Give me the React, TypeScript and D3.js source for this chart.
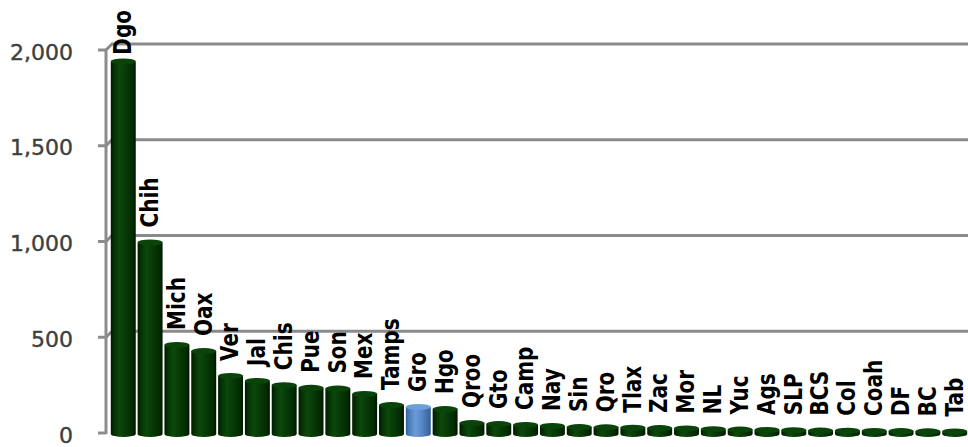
import { useEffect, useRef } from 'react';
import * as d3 from 'd3';

// States, ordered as in the chart
const states = [
  'Dgo', 'Chih', 'Mich', 'Oax', 'Ver', 'Jal', 'Chis', 'Pue', 'Son', 'Mex', 'Tamps',
  'Gro', 'Hgo', 'Qroo', 'Gto', 'Camp', 'Nay', 'Sin', 'Qro', 'Tlax', 'Zac', 'Mor',
  'NL', 'Yuc', 'Ags', 'SLP', 'BCS', 'Col', 'Coah', 'DF', 'BC', 'Tab',
];

// Values
const values = [
  1940, 995, 460, 428, 298, 272, 250, 236, 232, 204, 146,
  136, 125, 52, 47, 42, 37, 31, 30, 28, 26, 24,
  20, 18, 16, 15, 13, 12, 11, 10, 9, 8,
];

const highlighted = ['Gro'];

const yTicks = [0, 500, 1000, 1500, 2000];

export default function App(): JSX.Element {
  const svgRef = useRef<SVGSVGElement>(null);

  useEffect(() => {
    document.body.style.margin = '0';
    if (!svgRef.current) return;
    svgRef.current.innerHTML = '';

    const width = 968;
    const height = 447;
    const axisX = 106;
    const wallShift = 6;

    const x = d3.scaleBand<string>().domain(states).range([110, 968]).paddingInner(0.07).paddingOuter(0.03);
    const y = d3.scaleLinear([0, 2000], [433, 50]);

    const svg = d3
      .select(svgRef.current)
      .attr('width', width)
      .attr('height', height)
      .attr('viewBox', [0, 0, width, height]);

    const defs = svg.append('defs');
    const grad = (id: string, stops: [number, string][]) => {
      const g = defs.append('linearGradient').attr('id', id).attr('x1', '0%').attr('x2', '100%');
      stops.forEach(([o, c]) => g.append('stop').attr('offset', `${o}%`).attr('stop-color', c));
    };
    grad('green', [
      [0, '#001800'],
      [12, '#033003'],
      [35, '#0c480c'],
      [60, '#063a06'],
      [88, '#022a02'],
      [100, '#001400'],
    ]);
    grad('blue', [
      [0, '#34609a'],
      [15, '#4d7fc0'],
      [38, '#6b9bd6'],
      [65, '#5686c6'],
      [100, '#335e98'],
    ]);

    // gridlines on the back wall
    svg
      .append('g')
      .selectAll('path')
      .data(yTicks.filter((d) => d > 0))
      .join('path')
      .attr('fill', 'none')
      .attr('stroke', '#8a8a8a')
      .attr('stroke-width', 3)
      .attr('d', (d) => `M${axisX},${y(d)} L${axisX + 6},${y(d) - wallShift} L${width},${y(d) - wallShift}`);

    // y axis
    const axis = svg.append('g');
    axis
      .append('line')
      .attr('x1', axisX)
      .attr('x2', axisX)
      .attr('y1', y(2000) - 1)
      .attr('y2', y(0) + 1)
      .attr('stroke', '#8c8c8c')
      .attr('stroke-width', 3);
    axis
      .selectAll('line.tick')
      .data(yTicks)
      .join('line')
      .attr('class', 'tick')
      .attr('x1', axisX - 8)
      .attr('x2', axisX)
      .attr('y1', (d) => y(d))
      .attr('y2', (d) => y(d))
      .attr('stroke', '#8c8c8c')
      .attr('stroke-width', 3);
    axis
      .selectAll('text')
      .data(yTicks)
      .join('text')
      .attr('x', 73)
      .attr('y', (d) => y(d) + 2)
      .attr('dy', '0.35em')
      .attr('text-anchor', 'end')
      .attr('font-family', 'DejaVu Sans')
      .attr('font-size', 22)
      .attr('fill', '#404040')
      .attr('stroke', '#404040')
      .attr('stroke-width', 0.4)
      .text((d) => d3.format(',')(d));

    // cylinders
    const data = states.map((s, i) => ({ s, v: values[i] }));
    const bw = x.bandwidth();
    const ry = 3;
    const g = svg
      .append('g')
      .selectAll('g')
      .data(data)
      .join('g');
    g.append('path')
      .attr('fill', (d) => (highlighted.includes(d.s) ? 'url(#blue)' : 'url(#green)'))
      .attr('d', (d) => {
        const x0 = x(d.s)!;
        const yt = y(d.v);
        const yb = y(0) + 1;
        return `M${x0},${yt} L${x0},${yb} A${bw / 2},${ry} 0 0 0 ${x0 + bw},${yb} L${x0 + bw},${yt} Z`;
      });
    g.append('ellipse')
      .attr('cx', (d) => x(d.s)! + bw / 2)
      .attr('cy', (d) => y(d.v))
      .attr('rx', bw / 2)
      .attr('ry', ry)
      .attr('fill', (d) => (highlighted.includes(d.s) ? '#6f9fd8' : '#0b440b'));

    // labels above bars
    const labels = svg
      .append('g')
      .selectAll('text')
      .data(data)
      .join('text')
      .attr('font-family', 'DejaVu Sans')
      .attr('font-weight', 'bold')
      .attr('font-size', 20)
      .attr('fill', '#000')
      .attr('dy', '0.36em')
      .text((d) => d.s);
    labels.each(function (d) {
      const el = this as SVGTextElement;
      const len = el.getComputedTextLength();
      const yb = Math.max(y(d.v) - 15, len + 10);
      const cx = x(d.s)! + bw / 2 - 1;
      d3.select(el).attr('transform', `translate(${cx},${yb}) rotate(-90) scale(1,1.22)`);
    });
  }, []);

  return (
    <div>
      <svg ref={svgRef} style={{ display: 'block' }} />
    </div>
  );
}
